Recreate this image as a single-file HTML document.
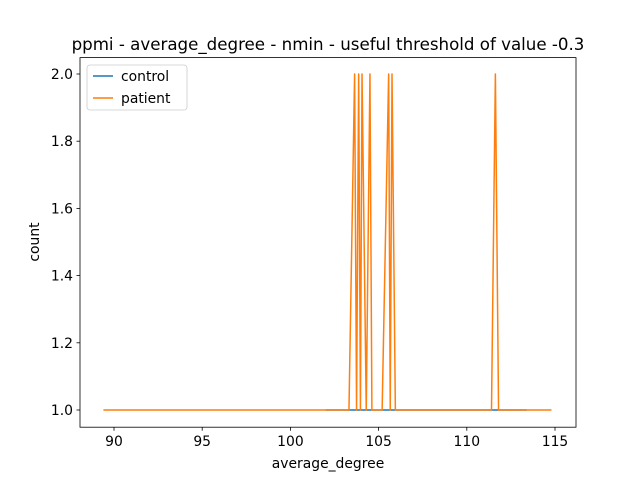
<!DOCTYPE html>
<html><head><meta charset="utf-8"><style>
body{margin:0;background:#fff;}
svg text{font-family:"DejaVu Sans","Liberation Sans",sans-serif;}
</style></head><body>
<svg id="chart" width="640" height="480" xmlns="http://www.w3.org/2000/svg">
<rect width="640" height="480" fill="#fff"/>
<text x="328" y="50" font-size="16.67" text-anchor="middle">ppmi - average_degree - nmin - useful threshold of value -0.3</text>
<g id="ticks"></g>
<g id="series"></g>
<rect x="80" y="57.6" width="496" height="369.6" fill="none" stroke="#000" stroke-width="0.8"/>
<text x="328" y="468" font-size="13.9" text-anchor="middle">average_degree</text>
<text transform="translate(39,242) rotate(-90)" font-size="13.9" text-anchor="middle">count</text>
<g>
<rect x="87" y="65" width="100" height="45" rx="3" fill="#fff" stroke="#ccc" stroke-width="0.8"/>
<line x1="93" y1="76" x2="113" y2="76" stroke="#1f77b4" stroke-width="1.5"/>
<text x="121" y="81" font-size="13.9">control</text>
<line x1="93" y1="98" x2="113" y2="98" stroke="#ff7f0e" stroke-width="1.5"/>
<text x="121" y="103" font-size="13.9">patient</text>
</g>
</svg>
<script>
const xTicks=[90,95,100,105,110,115];
const yTicks=[1.0,1.2,1.4,1.6,1.8,2.0];
const controlX=[102.0,113.4];
const controlY=[1,1];
const patientX=[89.4,103.32,103.64,103.75,103.87,103.97,104.06,104.3,104.51,104.62,105.2,105.57,105.66,105.76,105.95,111.4,111.62,111.8,114.8];
const patientY=[1,1,2,1,2,1,2,1,2,1,1,2,1,2,1,1,2,1,1];
const sx=v=>114+(v-90)*17.64;
const sy=v=>410-(v-1)*336;
const NS="http://www.w3.org/2000/svg";
const tg=document.getElementById('ticks');
xTicks.forEach(t=>{
 const l=document.createElementNS(NS,'line');
 
 
 l.setAttribute('x1',sx(t));l.setAttribute('x2',sx(t));l.setAttribute('y1',427.2);l.setAttribute('y2',430.7);l.setAttribute('stroke','#000');l.setAttribute('stroke-width','0.8');tg.appendChild(l);
 const tx=document.createElementNS(NS,'text');
 
 
 tx.setAttribute('x',sx(t));tx.setAttribute('y',446);tx.setAttribute('font-size','13.9');tx.setAttribute('text-anchor','middle');tx.textContent=t;tg.appendChild(tx);
});
yTicks.forEach(t=>{
 const l=document.createElementNS(NS,'line');
 
 
 l.setAttribute('x1',76.5);l.setAttribute('x2',80);l.setAttribute('y1',sy(t));l.setAttribute('y2',sy(t));l.setAttribute('stroke','#000');l.setAttribute('stroke-width','0.8');tg.appendChild(l);
 const tx=document.createElementNS(NS,'text');
 
 
 tx.setAttribute('x',73);tx.setAttribute('y',sy(t)+5);tx.setAttribute('font-size','13.9');tx.setAttribute('text-anchor','end');tx.textContent=t.toFixed(1);tg.appendChild(tx);
});
const sg=document.getElementById('series');
function draw(xs,ys,c,name){
 const p=document.createElementNS(NS,'polyline');
 
 
 p.setAttribute('points',xs.map((x,i)=>sx(x)+','+sy(ys[i])).join(' '));
 p.setAttribute('fill','none');p.setAttribute('stroke',c);p.setAttribute('stroke-width','1.5');p.setAttribute('stroke-linejoin','round');
 sg.appendChild(p);
}
draw(controlX,controlY,'#1f77b4','control-line');
draw(patientX,patientY,'#ff7f0e','patient-line');
</script>
</body></html>
